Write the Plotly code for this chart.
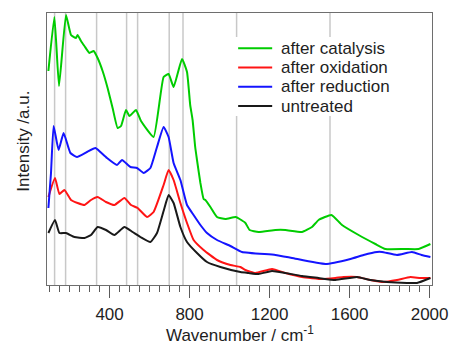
import plotly.graph_objects as go

# ---- data (wavenumber in cm^-1, intensity in arbitrary units) ----
names = ["after catalysis", "after oxidation", "after reduction", "untreated"]
colors = ["rgb(0,204,0)", "rgb(255,20,20)", "rgb(20,20,255)", "rgb(25,25,25)"]

wn_catalysis = [94, 124, 147, 182, 207, 232, 240, 257, 274, 299, 320, 340, 365, 390, 415, 440, 457,
                482, 499, 532, 557, 620, 670, 695, 720, 762, 787, 803, 815, 828, 837, 854, 870, 879,
                904, 937, 979, 1030, 1050, 1079, 1100, 1145, 1229, 1279, 1362, 1412, 1445, 1509,
                1562, 1645, 1729, 1779, 1879, 1945, 2004]
int_catalysis = [214, 268, 199, 270, 250, 247, 250, 244, 239, 232, 234, 227, 214, 197, 177, 157, 159,
                 175, 169, 175, 164, 148, 208, 211, 198, 226, 213, 180, 165, 138, 125, 102, 86, 85,
                 78, 68, 66, 68, 66, 62, 55, 53, 55, 55, 53, 58, 65, 70,
                 60, 50, 41, 36, 36, 36, 41]

wn_oxidation = [94, 127, 149, 174, 207, 240, 274, 307, 340, 382, 424, 474, 507, 540, 587, 620, 670,
                695, 720, 754, 787, 820, 870, 937, 1004, 1054, 1079, 1129, 1212, 1279, 1362, 1462,
                1529, 1570, 1637, 1704, 1770, 1837, 1904, 1954, 2004]
int_oxidation = [88, 107, 91, 95, 85, 82, 80, 85, 88, 83, 80, 87, 80, 77, 68, 73, 100,
                 115, 105, 82, 62, 45, 35, 25, 20, 18, 15, 12, 16, 12, 8, 6,
                 7, 8, 8, 5, 3, 5, 8, 7, 7]

wn_reduction = [94, 107, 120, 145, 170, 204, 237, 287, 329, 354, 387, 437, 462, 504, 537, 570, 604,
                637, 670, 695, 720, 754, 787, 820, 854, 887, 937, 1004, 1062, 1229, 1312, 1479,
                1604, 1670, 1737, 1762, 1837, 1912, 1960, 2004]
int_reduction = [77, 112, 159, 135, 152, 132, 128, 133, 137, 133, 127, 120, 125, 118, 117, 112, 117,
                 138, 158, 148, 122, 105, 80, 70, 60, 52, 45, 39, 33, 30, 27, 21,
                 26, 30, 33, 33, 30, 33, 30, 28]

wn_untreated = [94, 127, 149, 182, 224, 274, 307, 340, 382, 424, 474, 515, 554, 604, 637, 670, 695,
                720, 754, 787, 837, 887, 954, 1054, 1095, 1145, 1212, 1279, 1362, 1445, 1529, 1637,
                1704, 1787, 1887, 1937, 2004]
int_untreated = [52, 65, 52, 52, 48, 47, 50, 58, 55, 50, 58, 53, 48, 43, 52, 74, 90,
                 82, 58, 43, 32, 23, 18, 13, 12, 11, 14, 12, 9, 7, 5, 8,
                 5, 3, 2, 2, 7]

series_x = [wn_catalysis, wn_oxidation, wn_reduction, wn_untreated]
series_y = [int_catalysis, int_oxidation, int_reduction, int_untreated]

# reference band positions (cm^-1)
band_positions = [125, 180, 335, 485, 540, 698, 767, 1035, 1502]

x_range = [87, 2012]
y_range = [0, 272]

fig = go.Figure()
for name, col, xs, ys in zip(names, colors, series_x, series_y):
    fig.add_trace(go.Scatter(x=xs, y=ys, mode="lines", name=name,
                             line=dict(color=col, width=2, shape="spline", smoothing=0.4),
                             showlegend=False))

for b in band_positions:
    fig.add_shape(type="line", xref="x", yref="paper", x0=b, x1=b, y0=0, y1=1,
                  line=dict(color="rgb(200,200,200)", width=1.5), layer="below")

# manual legend (white box + samples + labels)
W, H = 449, 343
L, R, T, B = 47, 17.3, 13, 58
pw, ph = W - L - R, H - T - B

def px(xp):
    return (xp - L) / pw

def py(yp):
    return (H - B - yp) / ph

fig.add_shape(type="rect", xref="paper", yref="paper", x0=px(234), x1=px(402), y0=py(116), y1=py(37),
              line=dict(width=0), fillcolor="white", layer="below")
row_y = [48.3, 67.5, 86.7, 106]
for name, col, ry in zip(names, colors, row_y):
    fig.add_shape(type="line", xref="paper", yref="paper", x0=px(238), x1=px(272), y0=py(ry), y1=py(ry),
                  line=dict(color=col, width=2))
    fig.add_annotation(xref="paper", yref="paper", x=px(279), y=py(ry), text=name, showarrow=False,
                       xanchor="left", yanchor="middle", font=dict(size=17, color="rgb(30,30,30)"))

fig.add_annotation(xref="paper", yref="paper", x=px(22.7), y=py(141), text="Intensity /a.u.",
                   textangle=-90, showarrow=False, xanchor="center", yanchor="middle",
                   font=dict(size=17, color="rgb(30,30,30)"))

fig.add_annotation(xref="paper", yref="paper", x=px(240), y=py(333.5), text="Wavenumber / cm<sup>-1</sup>",
                   showarrow=False, xanchor="center", yanchor="middle",
                   font=dict(size=17, color="rgb(30,30,30)"))

fig.update_layout(
    width=W, height=H,
    margin=dict(l=L, r=R, t=T, b=B, autoexpand=False),
    paper_bgcolor="white", plot_bgcolor="white",
    font=dict(family="Liberation Sans, Arial, sans-serif", size=17, color="rgb(30,30,30)"),
    xaxis=dict(range=x_range, showgrid=False, zeroline=False, automargin=False,
               tick0=0, dtick=400, ticks="outside", ticklen=12, tickcolor="rgb(90,90,90)",
               ticklabelstandoff=2,
               showline=True, linecolor="rgb(110,110,110)", linewidth=1, mirror=True,
               minor=dict(tick0=0, dtick=50, ticks="outside", ticklen=6, tickcolor="rgb(90,90,90)")),
    yaxis=dict(range=y_range, showgrid=False, zeroline=False, showticklabels=False, automargin=False,
               ticks="", showline=True, linecolor="rgb(110,110,110)", linewidth=1, mirror=True),
)

fig.write_html("out.html")
